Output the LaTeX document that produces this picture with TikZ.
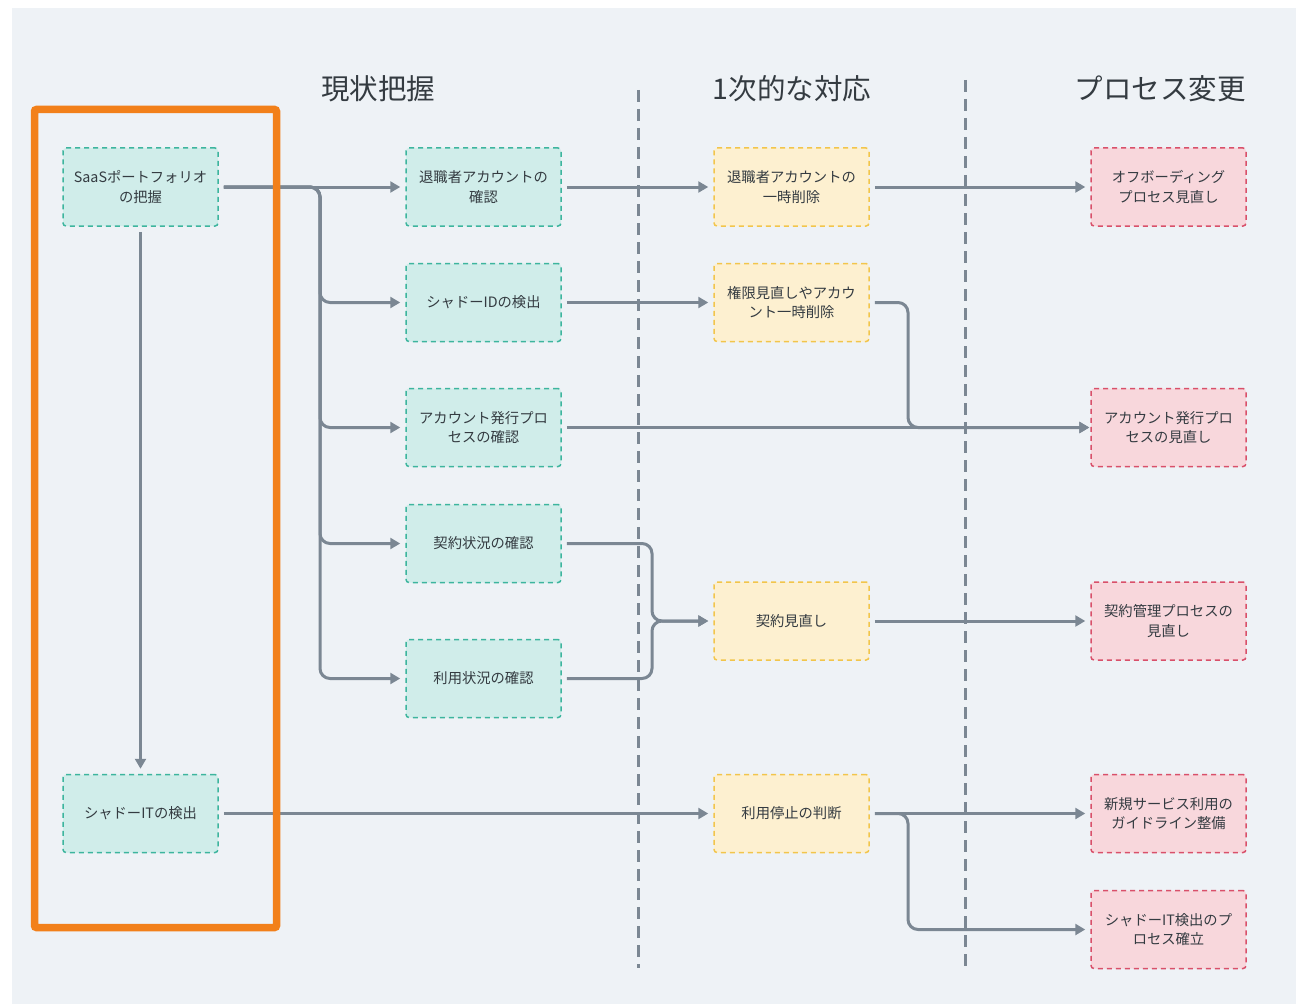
\documentclass[tikz,border=0pt]{standalone}
\usepackage{fontspec}
\setmainfont{Noto Sans CJK JP}
\usetikzlibrary{arrows.meta}
\definecolor{bgc}{HTML}{EEF2F6}
\definecolor{txtc}{HTML}{343B41}
\definecolor{linec}{HTML}{7B8793}
\definecolor{tfill}{HTML}{D0EDEA}
\definecolor{tdraw}{HTML}{3DB59E}
\definecolor{yfill}{HTML}{FDF0D0}
\definecolor{ydraw}{HTML}{F2C54B}
\definecolor{pfill}{HTML}{F8D7DC}
\definecolor{pdraw}{HTML}{D9506A}
\definecolor{orangec}{HTML}{F2801A}
\tikzset{
  box/.style={dash pattern=on 5pt off 4pt, line width=1.5pt, rounded corners=3pt,
    minimum width=155pt, minimum height=78pt, align=center, inner sep=0pt,
    font=\fontsize{14.3}{19.5}\selectfont, text=txtc},
  sbox/.style={box, fill=tfill, draw=tdraw},
  abox/.style={box, fill=yfill, draw=ydraw},
  pbox/.style={box, fill=pfill, draw=pdraw},
  hdr/.style={font=\fontsize{28.5}{32}\selectfont, text=txtc, inner sep=0pt},
  divider/.style={draw=linec, line width=3pt, dash pattern=on 12pt off 7pt},
  conn/.style={draw=linec, line width=3pt, rounded corners=10pt,
    shorten <=5pt, shorten >=5pt, -{Triangle[length=10pt,width=11pt]}},
}
\begin{document}
\begin{tikzpicture}[x=1pt,y=-1pt]
\useasboundingbox (0,0) rectangle (1296,1006);
\fill[white] (0,0) rectangle (1296,1006);
\fill[bgc] (12,8) rectangle (1296,1004);

% headers
\node[hdr] (h1) at (378,89) {現状把握};
\node[hdr] (h2) at (792,89) {1次的な対応};
\node[hdr] (h3) at (1160,89) {プロセス変更};

% dividers
\coordinate (d1t) at (638,90);
\coordinate (d1b) at (638,968);
\coordinate (d2t) at (965,80);
\coordinate (d2b) at (965,968);
\draw[divider] (d1t) -- (d1b);
\draw[divider] (d2t) -- (d2b);

% column 1
\node[sbox] (saas) at (140.5,187) {SaaSポートフォリオ\\の把握};
\node[sbox] (sit) at (140.5,813.5) {シャドーITの検出};

% column 2
\node[sbox] (r1) at (483.5,187) {退職者アカウントの\\確認};
\node[sbox] (r2) at (483.5,302.5) {シャドーIDの検出};
\node[sbox] (r3) at (483.5,427.5) {アカウント発行プロ\\セスの確認};
\node[sbox] (r4) at (483.5,543.5) {契約状況の確認};
\node[sbox] (r5) at (483.5,678.5) {利用状況の確認};

% column 3
\node[abox] (k1) at (791.5,187) {退職者アカウントの\\一時削除};
\node[abox] (k2) at (791.5,302.5) {権限見直しやアカウ\\ント一時削除};
\node[abox] (k3) at (791.5,621) {契約見直し};
\node[abox] (k4) at (791.5,813.5) {利用停止の判断};

% column 4
\node[pbox] (p1) at (1168.5,187) {オフボーディング\\プロセス見直し};
\node[pbox] (p2) at (1168.5,427.5) {アカウント発行プロ\\セスの見直し};
\node[pbox] (p3) at (1168.5,621) {契約管理プロセスの\\見直し};
\node[pbox] (p4) at (1168.5,813.5) {新規サービス利用の\\ガイドライン整備};
\node[pbox] (p5) at (1168.5,929.5) {シャドーIT検出のプ\\ロセス確立};

% branch columns
\coordinate (ta) at (320,0);
\coordinate (tb) at (652,0);
\coordinate (tc) at (908,0);

% connectors
\draw[conn] (saas.east) -- (r1.west);
\draw[conn] (saas.east) -- (saas.east -| ta) |- (r2.west);
\draw[conn] (saas.east) -- (saas.east -| ta) |- (r3.west);
\draw[conn] (saas.east) -- (saas.east -| ta) |- (r4.west);
\draw[conn] (saas.east) -- (saas.east -| ta) |- (r5.west);
\draw[conn] (saas.south) -- (sit.north);

\draw[conn] (r1.east) -- (k1.west);
\draw[conn] (r2.east) -- (k2.west);
\draw[conn, shorten >=1pt] (r3.east) -- (p2.west);
\draw[conn] (r4.east) -- (r4.east -| tb) |- (k3.west);
\draw[conn] (r5.east) -- (r5.east -| tb) |- (k3.west);
\draw[conn] (sit.east) -- (k4.west);

\draw[conn] (k1.east) -- (p1.west);
\draw[conn, shorten >=1pt] (k2.east) -- (k2.east -| tc) |- (p2.west);
\draw[conn] (k3.east) -- (p3.west);
\draw[conn] (k4.east) -- (p4.west);
\draw[conn] (k4.east) -- (k4.east -| tc) |- (p5.west);

% orange frame (on top)
\node[draw=orangec, line width=7.5pt, rounded corners=2pt, minimum width=242pt, minimum height=818pt, inner sep=0pt] (frame) at (155.5,518.5) {};
\end{tikzpicture}
\end{document}
